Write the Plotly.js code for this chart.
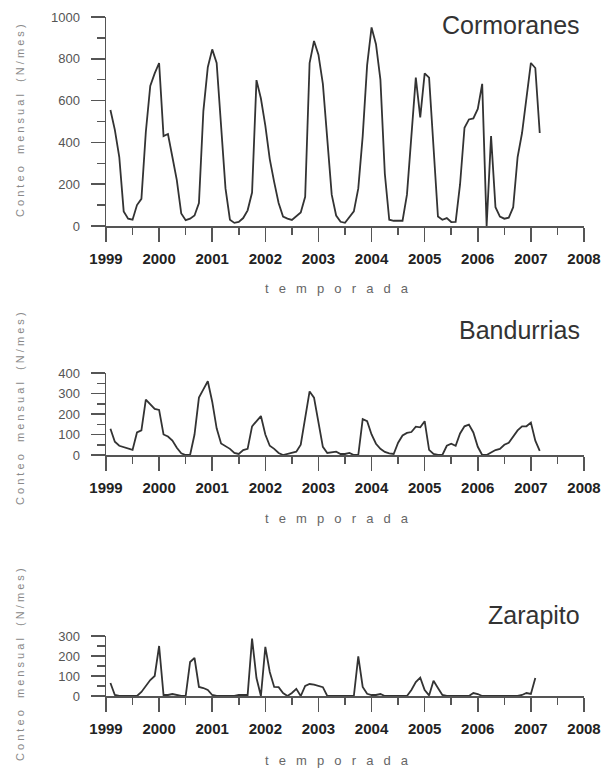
<!DOCTYPE html>
<html>
<head>
<meta charset="utf-8">
<script src="https://cdn.plot.ly/plotly-3.0.1.min.js"></script>
<style>
  html, body { margin: 0; padding: 0; background: #fff; }
  #chart { width: 604px; height: 768px; }
</style>
</head>
<body>
<div id="chart"></div>
<script>
// Monthly counts, Feb 1999 (month 1) .. Mar 2007 (month 98)
const startYear = 1999;
const monthIndex = [];
for (let m = 1; m <= 98; m++) monthIndex.push(m);

const cormoranes = [
  555, 460, 330, 70, 35, 30, 100, 130, 450, 670, 730, 780,
  430, 440, 330, 220, 60, 28, 35, 50, 110, 550, 760, 845,
  780, 480, 180, 30, 15, 20, 38, 75, 160, 698, 610, 480,
  320, 210, 110, 45, 35, 29, 45, 65, 140, 780, 885, 820,
  680, 400, 150, 50, 20, 15, 40, 70, 180, 430, 770, 950,
  870, 700, 250, 30, 25, 25, 25, 150, 420, 710, 520, 730,
  710, 370, 45, 30, 38, 19, 20, 200, 470, 510, 515, 560,
  680, 0, 430, 90, 45, 35, 40, 90, 330, 445, 620, 780,
  756, 445
];

const bandurrias = [
  128, 65, 45, 38, 30, 25, 110, 120, 270, 248, 225, 220,
  100, 90, 70, 35, 8, 0, 0, 100, 280, 320, 360, 260,
  130, 56, 42, 30, 10, 5, 24, 30, 140, 165, 190, 100,
  45, 30, 10, 0, 5, 12, 16, 50, 180, 310, 280, 160,
  40, 10, 12, 16, 5, 5, 10, 0, 0, 175, 165, 100,
  55, 30, 15, 8, 5, 60, 95, 108, 112, 138, 135, 165,
  25, 5, 0, 0, 45, 55, 45, 105, 140, 148, 110, 40,
  0, 0, 12, 24, 30, 50, 60, 88, 120, 140, 140, 158,
  70, 20
];

const zarapito = [
  65, 5, 0, 0, 0, 0, 0, 20, 50, 80, 100, 250,
  5, 5, 10, 5, 0, 0, 170, 190, 45, 40, 30, 5,
  0, 0, 0, 0, 0, 5, 5, 5, 287, 90, 0, 246,
  120, 45, 44, 15, 0, 15, 36, 0, 50, 60, 57, 52,
  44, 0, 0, 0, 0, 0, 0, 0, 198, 45, 11, 5,
  5, 10, 0, 0, 0, 0, 0, 0, 30, 70, 92, 30,
  3, 76, 40, 5, 0, 0, 0, 0, 0, 0, 15, 10,
  0, 0, 0, 0, 0, 0, 0, 0, 0, 5, 15, 10,
  90
];

const speciesNames = ['Cormoranes', 'Bandurrias', 'Zarapito'];
const yMax = [1000, 400, 300];
const yMajor = [200, 100, 100];
const yMinor = [100, 50, 50];
const yearTicks = [1999, 2000, 2001, 2002, 2003, 2004, 2005, 2006, 2007, 2008];
const yTitle = 'Conteo mensual (N/mes)';
const xTitle = 'temporada';

function spaced(s, sep) { return s.split('').map(c => c === ' ' ? sep + sep : c).join(sep); }

const xs = monthIndex.map(m => startYear + m / 12);
const series = [cormoranes, bandurrias, zarapito];

const FONT = '"Liberation Sans", Arial, sans-serif';
const AX = '#555';

const traces = series.map((vals, i) => ({
  type: 'scatter', mode: 'lines',
  x: xs.slice(0, vals.length), y: vals,
  xaxis: i === 0 ? 'x' : 'x' + (i + 1),
  yaxis: i === 0 ? 'y' : 'y' + (i + 1),
  line: { color: '#333', width: 1.8 },
  hoverinfo: 'skip', showlegend: false
}));

const H = 768;
const plotTops = [17, 373, 636];
const plotBottoms = [226, 455, 696];
const titleY = [25, 330, 615];
const yTitleY = [121, 409, 665];
const xTitleY = [288, 518, 760];

const layout = {
  width: 604, height: 768,
  margin: { l: 106, r: 20, t: 0, b: 0 },
  paper_bgcolor: '#fff', plot_bgcolor: '#fff',
  showlegend: false,
  font: { family: FONT, color: '#444' },
  annotations: []
};

for (let i = 0; i < 3; i++) {
  const xk = i === 0 ? 'xaxis' : 'xaxis' + (i + 1);
  const yk = i === 0 ? 'yaxis' : 'yaxis' + (i + 1);
  layout[xk] = {
    domain: [0, 1], anchor: i === 0 ? 'y' : 'y' + (i + 1),
    range: [1999, 2008], tickmode: 'array', tickvals: yearTicks,
    ticktext: yearTicks.map(String),
    showline: true, linecolor: AX, linewidth: 1.5,
    ticks: 'outside', ticklen: 14, tickwidth: 1.5, tickcolor: AX,
    minor: { dtick: 0.5, tick0: 1999, ticks: 'outside', ticklen: 7, tickwidth: 1.5, tickcolor: AX },
    showgrid: false, zeroline: false,
    tickfont: { family: FONT, size: 15, color: '#222', weight: 'bold' },
    ticklabelstandoff: 4, fixedrange: true
  };
  layout[yk] = {
    domain: [1 - plotBottoms[i] / H, 1 - plotTops[i] / H],
    anchor: i === 0 ? 'x' : 'x' + (i + 1),
    range: [0, yMax[i]], tick0: 0, dtick: yMajor[i],
    showline: true, linecolor: AX, linewidth: 1.5,
    ticks: 'outside', ticklen: 14, tickwidth: 1.5, tickcolor: AX,
    minor: { dtick: yMinor[i], tick0: 0, ticks: 'outside', ticklen: 8, tickwidth: 1.5, tickcolor: AX },
    showgrid: false, zeroline: false,
    tickfont: { family: FONT, size: 13, color: '#555' },
    ticklabelstandoff: 8, fixedrange: true
  };
  layout.annotations.push({
    xref: 'paper', yref: 'paper', x: (582 - 106) / 478, y: 1 - titleY[i] / H,
    xanchor: 'right', yanchor: 'middle', showarrow: false,
    text: speciesNames[i], font: { family: FONT, size: 25, color: '#333' }
  });
  layout.annotations.push({
    xref: 'paper', yref: 'paper', x: (20 - 106) / 478, y: 1 - yTitleY[i] / H,
    xanchor: 'center', yanchor: 'middle', showarrow: false, textangle: -90,
    text: spaced(yTitle, '\u00a0'), font: { family: FONT, size: 11, color: '#888' }
  });
  layout.annotations.push({
    xref: 'paper', yref: 'paper', x: (337 - 106) / 478, y: 1 - xTitleY[i] / H,
    xanchor: 'center', yanchor: 'middle', showarrow: false,
    text: spaced(xTitle, '\u2002\u00a0'), font: { family: FONT, size: 13, color: '#666' }
  });
}

Plotly.newPlot('chart', traces, layout, { staticPlot: true, displayModeBar: false });
</script>
</body>
</html>
